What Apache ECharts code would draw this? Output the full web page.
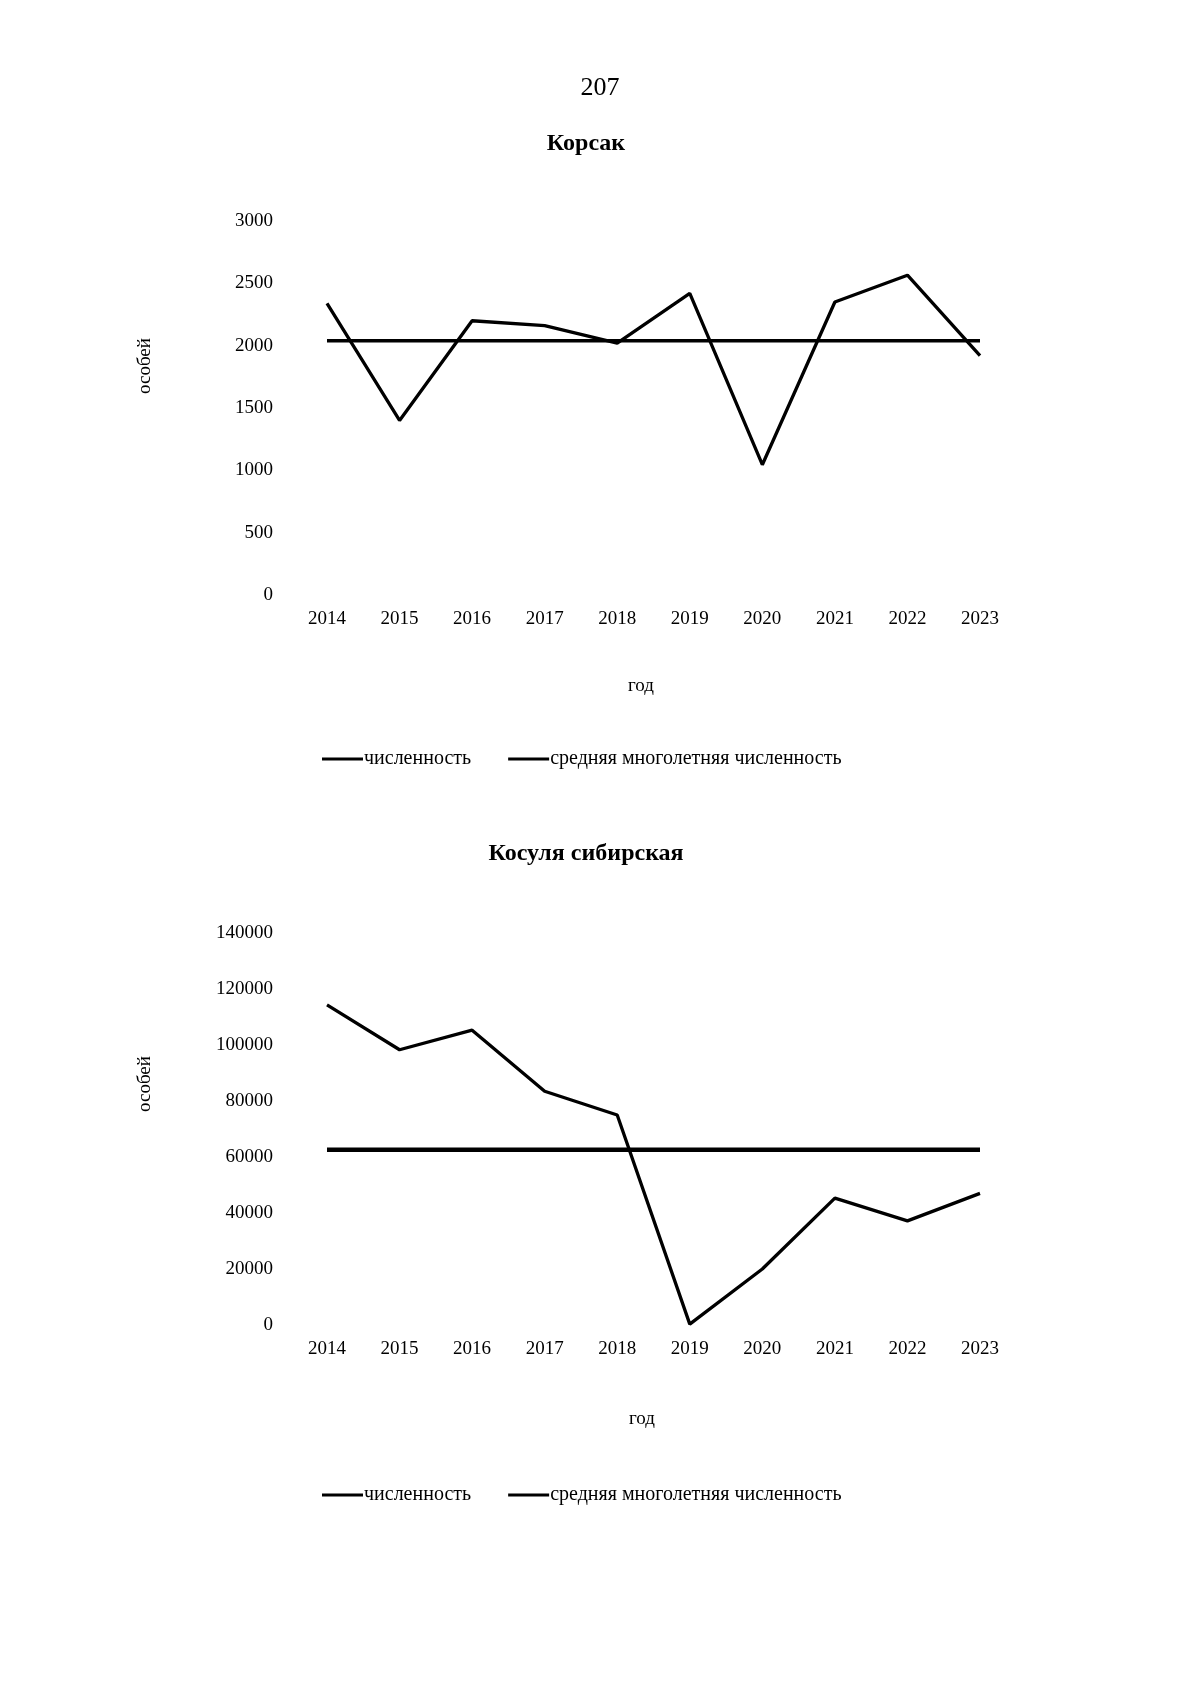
<!DOCTYPE html>
<html>
<head>
<meta charset="utf-8">
<script src="https://cdn.jsdelivr.net/npm/echarts@6/dist/echarts.min.js"></script>
<style>
    html, body {
        margin: 0;
        padding: 0;
        background: #fff;
    }

    #chart {
        width: 1200px;
        height: 1698px;
    }
</style>
</head>
<body>
<div id="chart"></div>
<script>
const years = ['2014', '2015', '2016', '2017', '2018', '2019', '2020', '2021', '2022', '2023']

// Корсак
const korsakCount = [2340, 1400, 2200, 2160, 2020, 2420, 1045, 2350, 2565, 1920]
const korsakAvg = [2040, 2040, 2040, 2040, 2040, 2040, 2040, 2040, 2040, 2040]

// Косуля сибирская
const roeCount = [114300, 98300, 105300, 83500, 75000, 300, 20000, 45300, 37200, 47000]
const roeAvg = [62600, 62600, 62600, 62600, 62600, 62600, 62600, 62600, 62600, 62600]

const seriesNames = ['численность', 'средняя многолетняя численность']

const font = 'Liberation Serif'

const chart = echarts.init(document.getElementById('chart'))

function xAxis (gridIndex) {
    return {
        type: 'category',
        gridIndex: gridIndex,
        data: years,
        boundaryGap: false,
        axisLine: { show: false },
        axisTick: { show: false },
        axisLabel: {
            color: '#000',
            fontFamily: font,
            fontSize: 19,
            margin: 15
        }
    }
}

function yAxis (gridIndex, max, interval) {
    return {
        type: 'value',
        gridIndex: gridIndex,
        min: 0,
        max: max,
        interval: interval,
        axisLine: { show: false },
        axisTick: { show: false },
        splitLine: { show: false },
        axisLabel: {
            color: '#000',
            fontFamily: font,
            fontSize: 19,
            margin: 54,
            formatter: v => String(v)
        }
    }
}

function line (name, data, idx, width) {
    return {
        name: name,
        type: 'line',
        xAxisIndex: idx,
        yAxisIndex: idx,
        data: data,
        symbol: 'none',
        silent: true,
        lineStyle: { color: '#000', width: width }
    }
}

function legend (top) {
    return {
        top: top,
        left: 317,
        itemWidth: 41,
        itemHeight: 3,
        itemGap: 37,
        icon: 'rect',
        data: seriesNames,
        itemStyle: { color: '#000' },
        textStyle: {
            color: '#000',
            fontFamily: font,
            fontSize: 20,
            padding: [0, 0, 0, -4]
        }
    }
}

function text (x, y, str, size, rotate) {
    return {
        type: 'text',
        x: x,
        y: y,
        rotation: rotate ? Math.PI / 2 : 0,
        style: {
            text: str,
            fill: '#000',
            font: size + 'px "' + font + '"',
            align: 'center',
            verticalAlign: 'middle'
        }
    }
}

function title (str, top) {
    return {
        text: str,
        left: 581,
        top: top,
        textAlign: 'center',
        textStyle: { color: '#000', fontFamily: font, fontSize: 24, fontWeight: 'bold' }
    }
}

const option = {
    animation: false,
    backgroundColor: '#fff',
    title: [
        title('Корсак', 127),
        title('Косуля сибирская', 837)
    ],
    grid: [
        { left: 327, right: 220, top: 221, height: 374 },
        { left: 327, right: 220, top: 933, height: 392 }
    ],
    xAxis: [xAxis(0), xAxis(1)],
    yAxis: [yAxis(0, 3000, 500), yAxis(1, 140000, 20000)],
    legend: [legend(744), legend(1480)],
    series: [
        line(seriesNames[0], korsakCount, 0, 3.3),
        line(seriesNames[1], korsakAvg, 0, 3.6),
        line(seriesNames[0], roeCount, 1, 3.3),
        line(seriesNames[1], roeAvg, 1, 4.6)
    ],
    graphic: [
        text(600, 88, '207', 26, false),
        text(641, 686, 'год', 19, false),
        text(642, 1419, 'год', 19, false),
        text(145, 366, 'особей', 19, true),
        text(145, 1084, 'особей', 19, true)
    ]
}

chart.setOption(option)
</script>
</body>
</html>
